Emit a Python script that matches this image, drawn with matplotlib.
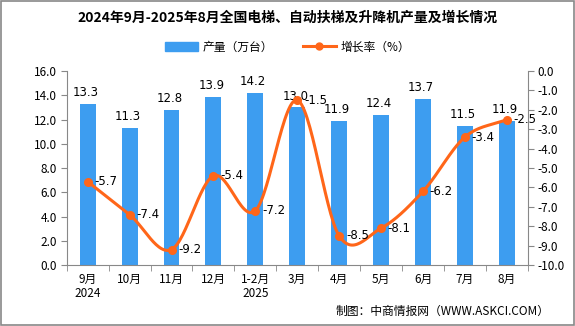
import numpy as np
import matplotlib.pyplot as plt
from matplotlib.lines import Line2D
from matplotlib.patches import Patch

plt.rcParams['font.family'] = ['Noto Sans CJK SC', 'DejaVu Sans']

months = ['9月\n2024', '10月', '11月', '12月', '1-2月\n2025', '3月',
          '4月', '5月', '6月', '7月', '8月']
output = [13.3, 11.3, 12.8, 13.9, 14.2, 13.0, 11.9, 12.4, 13.7, 11.5, 11.9]
growth = [-5.7, -7.4, -9.2, -5.4, -7.2, -1.5, -8.5, -8.1, -6.2, -3.4, -2.5]

bar_color = '#3D9DF0'
line_color = '#FF6619'


def smooth(x, y, n=30):
    # catmull-rom through the data points, just for the curve shape
    x = np.asarray(x, float)
    y = np.asarray(y, float)
    px = np.concatenate([[2*x[0]-x[1]], x, [2*x[-1]-x[-2]]])
    py = np.concatenate([[2*y[0]-y[1]], y, [2*y[-1]-y[-2]]])
    xs, ys = [], []
    t = np.linspace(0, 1, n, endpoint=False)
    for i in range(1, len(px)-2):
        for p, out in ((px, xs), (py, ys)):
            p0, p1, p2, p3 = p[i-1], p[i], p[i+1], p[i+2]
            out.extend(0.5*((2*p1) + (-p0+p2)*t + (2*p0-5*p1+4*p2-p3)*t**2
                            + (-p0+3*p1-3*p2+p3)*t**3))
    xs.append(x[-1])
    ys.append(y[-1])
    return np.array(xs), np.array(ys)


fig = plt.figure(figsize=(5.75, 3.26), dpi=100)
fig.patches.append(plt.Rectangle((0.001, 0.002), 0.997, 0.995, transform=fig.transFigure,
                                 fill=False, edgecolor='#888888', linewidth=1.2))
ax = fig.add_axes([0.116, 0.187, 0.802, 0.595])
x = np.arange(len(months))
ax.bar(x, output, width=0.38, color=bar_color, zorder=2)
ax.set_ylim(0, 16)
ax.set_yticks(np.arange(0, 16.1, 2))
ax.set_yticklabels([f'{v:.1f}' for v in np.arange(0, 16.1, 2)], fontsize=8.5)
ax.set_xlim(-0.5, len(months)-0.5)
ax.set_xticks(x)
ax.set_xticklabels(months, fontsize=8.5, linespacing=1.1)
ax.set_xticks(np.arange(-0.5, len(months), 1), minor=True)
ax.tick_params(axis='x', which='major', length=0, pad=6)
ax.tick_params(axis='x', which='minor', length=4, color='#888888')
ax.tick_params(axis='y', length=4, color='#888888', pad=3)
for s in ['top', 'right']:
    ax.spines[s].set_visible(False)
for s in ['left', 'bottom']:
    ax.spines[s].set_color('#888888')

for xi, v in zip(x, output):
    ax.text(xi - 0.05, v + 0.4, f'{v:.1f}', ha='center', va='bottom', fontsize=8.5,
            family='DejaVu Sans', zorder=5)

ax2 = ax.twinx()
ax2.set_ylim(-10, 0)
ax2.set_yticks(np.arange(-10, 0.1, 1))
ax2.set_yticklabels([f'{v:.1f}' for v in np.arange(-10, 0.1, 1)], fontsize=8.5)
ax2.tick_params(axis='y', length=4, color='#888888', pad=3)
for s in ['top', 'left', 'bottom']:
    ax2.spines[s].set_visible(False)
ax2.spines['right'].set_color('#888888')

sx, sy = smooth(x, growth)
ax2.plot(sx, sy, color=line_color, linewidth=2.2, zorder=3)
ax2.plot(x, growth, 'o', color=line_color, markersize=5.5, zorder=4)
for xi, v in zip(x, growth):
    ax2.text(xi + 0.16, v, f'{v:.1f}', ha='left', va='center', fontsize=8.5,
             family='DejaVu Sans', zorder=5)

fig.text(0.5, 0.945, '2024年9月-2025年8月全国电梯、自动扶梯及升降机产量及增长情况',
         ha='center', va='center', fontsize=10, fontweight='bold')
handles = [Patch(color=bar_color),
           Line2D([0], [0], color=line_color, linewidth=2.2, marker='o', markersize=5)]
fig.legend(handles, ['产量（万台）', '增长率（%）'], loc='center', bbox_to_anchor=(0.5, 0.855),
           ncol=2, frameon=False, fontsize=8.5, handlelength=2.8, handleheight=0.8,
           columnspacing=2.5, handletextpad=0.4)
fig.text(0.955, 0.045, '制图：中商情报网（WWW.ASKCI.COM）', ha='right', va='center', fontsize=8.5)

fig.savefig('out.png', dpi=100)
